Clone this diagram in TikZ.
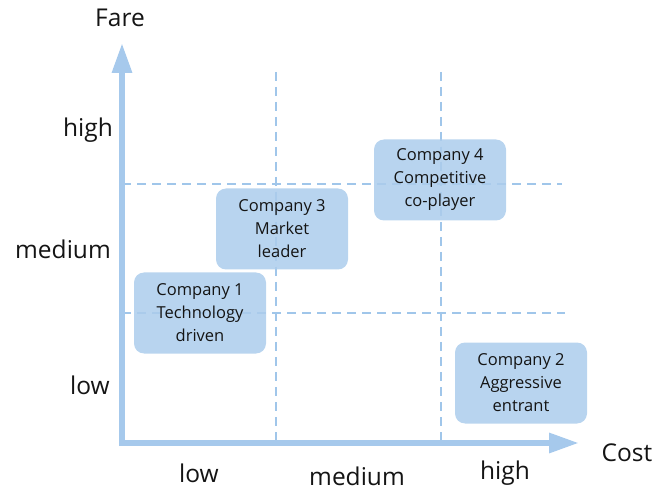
\documentclass[tikz,border=0pt]{standalone}
\usepackage{fontspec}
\setmainfont{Open Sans}
\usetikzlibrary{arrows.meta}
\definecolor{axisblue}{RGB}{166,201,236}
\definecolor{gridblue}{RGB}{160,198,234}
\definecolor{boxblue}{RGB}{172,205,236}
\definecolor{inkdark}{RGB}{20,20,20}
\tikzset{
  axis/.style={draw=axisblue, line width=6pt,
    -{Triangle[length=30pt,width=19pt]}},
  gridline/.style={draw=gridblue, line width=1.5pt, dash pattern=on 9pt off 6pt},
  company/.style={fill=boxblue, fill opacity=0.85, text opacity=1,
    rounded corners=10pt, minimum width=132pt, minimum height=81pt,
    inner sep=0pt, align=center, text=inkdark,
    font=\fontsize{16.5}{23}\selectfont},
  axislabel/.style={text=inkdark, font=\fontsize{24.5}{28}\selectfont, inner sep=0pt},
  ticklabel/.style={text=inkdark, font=\fontsize{24.5}{28}\selectfont, inner sep=0pt}
}
\begin{document}
\begin{tikzpicture}[x=1pt, y=-1pt]
  \useasboundingbox (0,0) rectangle (657,492);

  % grid guides
  \coordinate (v1top) at (276,72);  \coordinate (v1bot) at (276,443);
  \coordinate (v2top) at (441,72);  \coordinate (v2bot) at (441,443);
  \coordinate (h1l) at (122,184);   \coordinate (h1r) at (562,184);
  \coordinate (h2l) at (122,313);   \coordinate (h2r) at (565,313);
  \draw[gridline] (v1top) -- (v1bot);
  \draw[gridline] (v2top) -- (v2bot);
  \draw[gridline] (h1l) -- (h1r);
  \draw[gridline] (h2l) -- (h2r);

  % axes
  \coordinate (ybase) at (122,446);
  \coordinate (ytip) at (122,43);
  \coordinate (xbase) at (119,443);
  \coordinate (xtip) at (579,443);
  \draw[axis] (ybase) -- (ytip);
  \draw[axis] (xbase) -- (xtip);

  \node[axislabel] (fare) at (120,18) {Fare};
  \node[axislabel] (cost) at (627,453) {Cost};

  % level labels
  \node[ticklabel] (yhigh) at (88,130) {high};
  \node[ticklabel] (ymed)  at (63,249) {medium};
  \node[ticklabel] (ylow)  at (90,385) {low};
  \node[ticklabel] (xlow)  at (199,473) {low};
  \node[ticklabel] (xmed)  at (357,476) {medium};
  \node[ticklabel] (xhigh) at (505,473) {high};

  % companies
  \node[company] (c1) at (200,313) {Company 1\\Technology\\driven};
  \node[company] (c3) at (282,229) {Company 3\\Market\\leader};
  \node[company] (c4) at (440,180) {Company 4\\Competitive\\co-player};
  \node[company] (c2) at (521,383) {Company 2\\Aggressive\\entrant};
\end{tikzpicture}
\end{document}
